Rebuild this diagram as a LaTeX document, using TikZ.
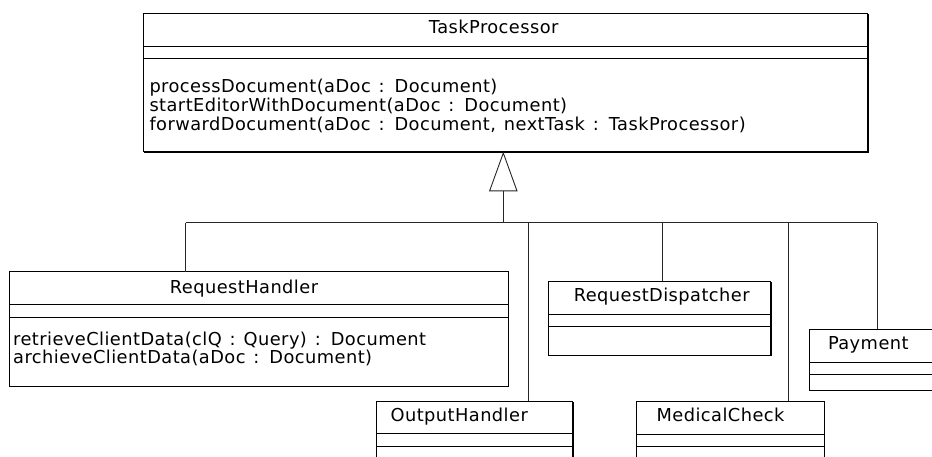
\documentclass[tikz,border=0pt]{standalone}
\usepackage{fontspec}
\setmainfont{DejaVu Sans}[WordSpace=1.3, LetterSpace=2.5]
\usetikzlibrary{arrows.meta,shadows,calc}

\newcommand\umlfont{\fontsize{17.8}{18.5}\selectfont}

\tikzset{
  classbox/.style={draw=black, fill=white, line width=0.9pt, anchor=north west,
    inner sep=0pt, outer sep=0pt,
    drop shadow={shadow xshift=1.1pt, shadow yshift=-1.1pt, opacity=1, fill=black}},
  ctitle/.style={anchor=base, inner sep=0pt, font=\umlfont},
  cop/.style={anchor=base west, inner sep=0pt, font=\umlfont},
  sepline/.style={draw=black, line width=0.9pt},
  link/.style={draw=black!85, line width=0.9pt},
  genarrow/.style={-{Triangle[open, length=39.6pt, width=28.4pt, line width=0.9pt]}},
}

\begin{document}
\begin{tikzpicture}[x=1pt, y=-1pt]
  \useasboundingbox (0,0) rectangle (932,457);
  \clip (0,0) rectangle (932,457);
  \fill[white] (0,0) rectangle (932,457);

  % ---- generalisation tree ----
  \coordinate (trunk) at (503.3,222.7);
  \coordinate (jRH) at (185.7,222.7);
  \coordinate (jOH) at (528.3,222.7);
  \coordinate (jRD) at (662.3,222.7);
  \coordinate (jMC) at (788.3,222.7);
  \coordinate (jPM) at (877.3,222.7);

  % ---- TaskProcessor ----
  \node[classbox, minimum width=724.4pt, minimum height=138.4pt] (tp) at (143.3,13.3) {};
  \draw[sepline] (tp.west |- 0,46) -- (tp.east |- 0,46);
  \draw[sepline] (tp.west |- 0,58.3) -- (tp.east |- 0,58.3);
  \node[ctitle] (tpT) at (493.7,33.3) {TaskProcessor};
  \node[cop] (tpM1) at (149.3,92.3) {processDocument(aDoc : Document)};
  \node[cop] (tpM2) at (149.3,111.2) {startEditorWithDocument(aDoc : Document)};
  \node[cop] (tpM3) at (149.3,130.1) {forwardDocument(aDoc : Document, nextTask : TaskProcessor)};

  % ---- RequestHandler ----
  \node[classbox, minimum width=499pt, minimum height=114.3pt] (rh) at (9.3,271.7) {};
  \draw[sepline] (rh.west |- 0,304.3) -- (rh.east |- 0,304.3);
  \draw[sepline] (rh.west |- 0,317) -- (rh.east |- 0,317);
  \node[ctitle] (rhT) at (244,293) {RequestHandler};
  \node[cop] (rhM1) at (13,345.3) {retrieveClientData(clQ : Query) : Document};
  \node[cop] (rhM2) at (13,363.7) {archieveClientData(aDoc : Document)};

  % ---- RequestDispatcher ----
  \node[classbox, minimum width=222.7pt, minimum height=74pt] (rd) at (548,281) {};
  \draw[sepline] (rd.west |- 0,314.3) -- (rd.east |- 0,314.3);
  \draw[sepline] (rd.west |- 0,326.7) -- (rd.east |- 0,326.7);
  \node[ctitle] (rdT) at (661.7,301.7) {RequestDispatcher};

  % ---- Payment ----
  \node[classbox, minimum width=160pt, minimum height=61pt] (pm) at (809.3,329) {};
  \draw[sepline] (pm.west |- 0,362.8) -- (pm.east |- 0,362.8);
  \draw[sepline] (pm.west |- 0,374.3) -- (pm.east |- 0,374.3);
  \node[ctitle] (pmT) at (868.3,349.3) {Payment};

  % ---- OutputHandler ----
  \node[classbox, minimum width=196pt, minimum height=90pt] (oh) at (376.7,401) {};
  \draw[sepline] (oh.west |- 0,433.3) -- (oh.east |- 0,433.3);
  \draw[sepline] (oh.west |- 0,446) -- (oh.east |- 0,446);
  \node[ctitle] (ohT) at (459.2,421.7) {OutputHandler};

  % ---- MedicalCheck ----
  \node[classbox, minimum width=187.6pt, minimum height=90pt] (mc) at (636.7,401) {};
  \draw[sepline] (mc.west |- 0,434.3) -- (mc.east |- 0,434.3);
  \draw[sepline] (mc.west |- 0,446) -- (mc.east |- 0,446);
  \node[ctitle] (mcT) at (720.5,421.7) {MedicalCheck};

  % ---- connectors ----
  \draw[link] (jRH) -- (jPM);
  \draw[link] (jRH) -- (jRH |- rh.north);
  \draw[link] (jOH) -- (jOH |- oh.north);
  \draw[link] (jRD) -- (jRD |- rd.north);
  \draw[link] (jMC) -- (jMC |- mc.north);
  \draw[link] (jPM) -- (jPM |- pm.north);
  \draw[link, genarrow] (trunk) -- (trunk |- tp.south);
\end{tikzpicture}
\end{document}
